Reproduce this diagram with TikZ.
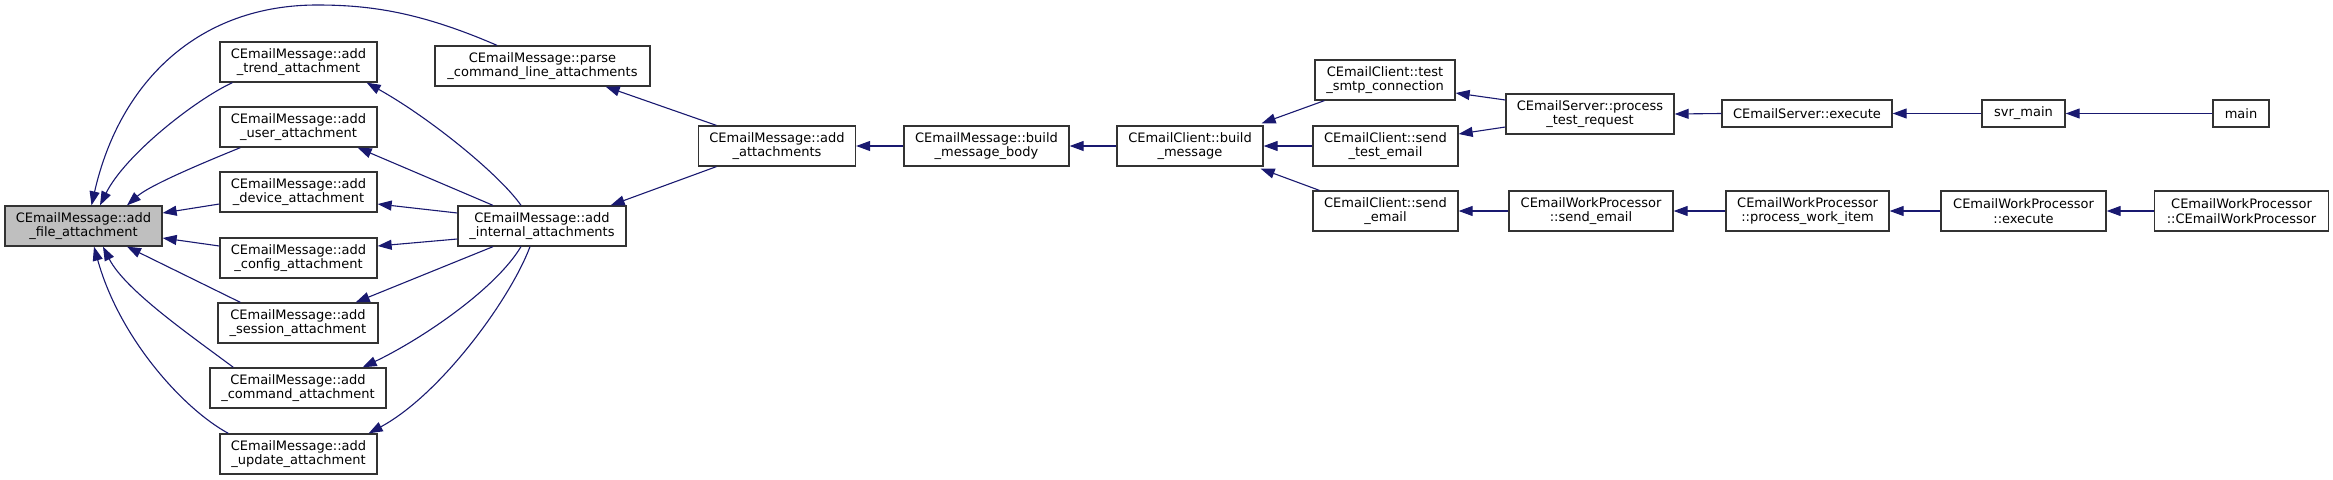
\documentclass[tikz,border=0pt]{standalone}
\usepackage{fontspec}
\setmainfont{DejaVu Sans}
\usetikzlibrary{arrows.meta,calc}
\definecolor{edgeblue}{RGB}{25,25,112}
\definecolor{boxgray}{RGB}{191,191,191}
\begin{document}
\begin{tikzpicture}[x=1pt,y=-1pt,
  fn/.style={draw=black!80, line width=1.3pt, fill=white, align=center, inner sep=0pt,
    minimum height=40pt, font=\fontsize{13}{14.5}\selectfont},
  one/.style={minimum height=27pt},
  edge/.style={draw=edgeblue, line width=1.1pt, -{Triangle[length=14pt,width=10pt]}}]
\useasboundingbox (0,0) rectangle (2333,479);
% nodes
\node[fn, fill=boxgray, minimum width=157pt] (file) at (83.5,226) {CEmailMessage::add\\\_file\_attachment};
\node[fn, minimum width=157pt] (trend) at (298.5,62) {CEmailMessage::add\\\_trend\_attachment};
\node[fn, minimum width=157pt] (user) at (298.5,127) {CEmailMessage::add\\\_user\_attachment};
\node[fn, minimum width=157pt] (device) at (298.5,192) {CEmailMessage::add\\\_device\_attachment};
\node[fn, minimum width=157pt] (config) at (298.5,258) {CEmailMessage::add\\\_config\_attachment};
\node[fn, minimum width=160pt] (session) at (298,323) {CEmailMessage::add\\\_session\_attachment};
\node[fn, minimum width=176pt] (command) at (298,388) {CEmailMessage::add\\\_command\_attachment};
\node[fn, minimum width=157pt] (update) at (298.5,454) {CEmailMessage::add\\\_update\_attachment};
\node[fn, minimum width=215pt] (parse) at (542.5,66) {CEmailMessage::parse\\\_command\_line\_attachments};
\node[fn, minimum width=168pt] (internal) at (542,226) {CEmailMessage::add\\\_internal\_attachments};
\node[fn, minimum width=157pt] (aa) at (777,146) {CEmailMessage::add\\\_attachments};
\node[fn, minimum width=165pt] (bmb) at (986.5,146) {CEmailMessage::build\\\_message\_body};
\node[fn, minimum width=146pt] (bm) at (1190,146) {CEmailClient::build\\\_message};
\node[fn, minimum width=140pt] (smtp) at (1385,80) {CEmailClient::test\\\_smtp\_connection};
\node[fn, minimum width=145pt] (ste) at (1385.5,146) {CEmailClient::send\\\_test\_email};
\node[fn, minimum width=145pt] (se) at (1385.5,211) {CEmailClient::send\\\_email};
\node[fn, minimum width=168pt] (ptr) at (1590,114) {CEmailServer::process\\\_test\_request};
\node[fn, one, minimum width=170pt] (sexec) at (1807,113.5) {CEmailServer::execute};
\node[fn, one, minimum width=83pt] (svr) at (2023.5,113.5) {svr\_main};
\node[fn, one, minimum width=56pt] (main) at (2241,113.5) {main};
\node[fn, minimum width=164pt] (wpse) at (1591,211) {CEmailWorkProcessor\\::send\_email};
\node[fn, minimum width=163pt] (pwi) at (1807.5,211) {CEmailWorkProcessor\\::process\_work\_item};
\node[fn, minimum width=165pt] (wpex) at (2023.5,211) {CEmailWorkProcessor\\::execute};
\node[fn, minimum width=174pt] (ctor) at (2241.5,211) {CEmailWorkProcessor\\::CEmailWorkProcessor};
% edges into add_file_attachment
\draw[edge] ($(parse.north)+(-45.5,0)$) .. controls (420,12) and (370,5) .. (317,5)
  .. controls (200,5) and (120,80) .. ($(file.north)+(8,0)$);
\draw[edge] ($(trend.south west)+(13,0)$) .. controls (195,100) and (125,155) .. ($(file.north)+(16.5,0)$);
\draw[edge] ($(user.south west)+(21,0)$) .. controls (205,162) and (150,185) .. ($(file.north)+(43.5,0)$);
\draw[edge] ($(device.west)+(0,12)$) -- ($(file.east)+(0,-13)$);
\draw[edge] ($(config.west)+(0,-12)$) -- ($(file.east)+(0,12)$);
\draw[edge] ($(session.north west)+(23,0)$) -- ($(file.south)+(43.5,0)$);
\draw[edge] ($(command.north west)+(24,0)$) .. controls (190,335) and (125,290) .. ($(file.south)+(19.5,0)$);
\draw[edge] ($(update.north west)+(9,0)$) .. controls (185,410) and (120,340) .. ($(file.south)+(10.5,0)$);
% edges from add_internal_attachments
\draw[edge] ($(internal.north)+(-21,0)$) .. controls (500,175) and (430,118) .. ($(trend.south east)+(-11,0)$);
\draw[edge] ($(internal.north)+(-49,0)$) -- ($(user.south east)+(-20,0)$);
\draw[edge] ($(internal.west)+(0,-13)$) -- ($(device.east)+(0,12)$);
\draw[edge] ($(internal.west)+(0,13)$) -- ($(config.east)+(0,-12)$);
\draw[edge] ($(internal.south)+(-49,0)$) -- ($(session.north east)+(-23,0)$);
\draw[edge] ($(internal.south)+(-21,0)$) .. controls (495,290) and (420,340) .. ($(command.north east)+(-24,0)$);
\draw[edge] ($(internal.south)+(-12,0)$) .. controls (510,300) and (440,395) .. ($(update.north east)+(-9,0)$);
% add_attachments
\draw[edge] ($(aa.north west)+(18.5,0)$) -- ($(parse.south east)+(-45,0)$);
\draw[edge] ($(aa.south west)+(18.5,0)$) -- ($(internal.north east)+(-16,0)$);
\draw[edge] (bmb.west) -- (aa.east);
\draw[edge] (bm.west) -- (bmb.east);
% build_message callers
\draw[edge] ($(smtp.south west)+(10,0)$) -- ($(bm.north east)+(-2,-2)$);
\draw[edge] (ste.west) -- (bm.east);
\draw[edge] ($(se.north west)+(7,0)$) -- ($(bm.south east)+(-3,2)$);
\draw[edge] ($(ptr.west)+(0,-14)$) -- ($(smtp.east)+(0,13)$);
\draw[edge] ($(ptr.west)+(0,13)$) -- ($(ste.east)+(0,-12)$);
\draw[edge] (sexec.west) -- (ptr.east);
\draw[edge] (svr.west) -- (sexec.east);
\draw[edge] (main.west) -- (svr.east);
\draw[edge] (wpse.west) -- (se.east);
\draw[edge] (pwi.west) -- (wpse.east);
\draw[edge] (wpex.west) -- (pwi.east);
\draw[edge] (ctor.west) -- (wpex.east);
\end{tikzpicture}
\end{document}
